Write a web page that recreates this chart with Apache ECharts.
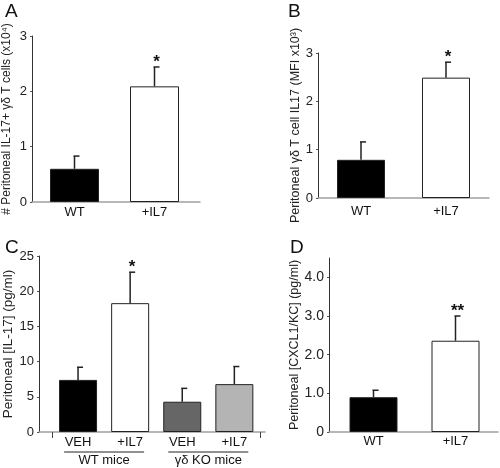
<!DOCTYPE html>
<html><head><meta charset="utf-8">
<script src="https://cdn.jsdelivr.net/npm/echarts@6/dist/echarts.min.js"></script>
<style>html,body{margin:0;padding:0;background:#fff}#c{width:500px;height:468px}</style>
</head><body><div id="c"></div>
<script>
// ---- data ----
const catsA = ['WT', '+IL7'];
const meanA = [0.6, 2.09];
const semA = [0.23, 0.35];
const sigA = ['', '*'];

const catsB = ['WT', '+IL7'];
const meanB = [0.79, 2.49];
const semB = [0.37, 0.32];
const sigB = ['', '*'];

const catsC = ['VEH', '+IL7', 'VEH', '+IL7'];
const meanC = [7.4, 18.3, 4.3, 6.8];
const semC = [1.8, 4.4, 1.9, 2.5];
const sigC = ['', '*', '', ''];
const groupsC = ['WT mice', 'γδ KO mice'];
const groupIdxC = [[0, 1], [2, 3]];

const catsD = ['WT', '+IL7'];
const meanD = [0.9, 2.36];
const semD = [0.18, 0.64];
const sigD = ['', '**'];

const colors2 = ['#000000', '#ffffff'];
const colors4 = ['#000000', '#ffffff', '#666666', '#b4b4b4'];

// ---- layout ----
const FONT = 'Liberation Sans, Arial, sans-serif';
const panels = [
  {cats: catsA, mean: meanA, sem: semA, sig: sigA, colors: colors2, max: 3, interval: 1, fmt: v => String(v),
   frame: {left: 30, top: 36, width: 170, height: 166}, bars: {left: 34.5, width: 160}, bw: 49,
   name: '# Peritoneal IL-17+ γδ T cells (x10⁴)', nameGap: 19, nameFont: 12, labelMargin: 4, tickFont: 13},
  {cats: catsB, mean: meanB, sem: semB, sig: sigB, colors: colors2, max: 3, interval: 1, fmt: v => String(v),
   frame: {left: 318, top: 53, width: 171, height: 145}, bars: {left: 318.5, width: 170}, bw: 48,
   name: 'Peritoneal γδ T cell IL17 (MFI x10³)', nameGap: 15, nameFont: 12.5, labelMargin: 7, tickFont: 13},
  {cats: catsC, mean: meanC, sem: semC, sig: sigC, colors: colors4, max: 25, interval: 5, fmt: v => String(v),
   frame: {left: 39, top: 256, width: 226, height: 176}, bars: {left: 52, width: 208.4}, bw: 38,
   name: 'Peritoneal [IL-17] (pg/ml)', nameGap: 22, nameFont: 13.5, labelMargin: 4, tickFont: 13},
  {cats: catsD, mean: meanD, sem: semD, sig: sigD, colors: colors2, max: 4.5, interval: 1, fmt: v => v === 0 ? '0' : v.toFixed(1),
   frame: {left: 329, top: 258, width: 169, height: 174}, bars: {left: 332.5, width: 164}, bw: 48,
   name: 'Peritoneal [CXCL1/KC] (pg/ml)', nameGap: 28, nameFont: 12.5, labelMargin: 3, tickFont: 14}
];

const grid = [], xAxis = [], yAxis = [], series = [];
panels.forEach((p, k) => {
  const fi = 2 * k, bi = 2 * k + 1;
  grid.push({left: p.frame.left, top: p.frame.top, width: p.frame.width, height: p.frame.height});
  grid.push({left: p.bars.left, top: p.frame.top, width: p.bars.width, height: p.frame.height});
  // frame axes
  xAxis.push({gridIndex: fi, type: 'value', min: 0, max: 1, axisLine: {show: true, lineStyle: {color: '#a0a0a0', width: 1.5}},
    axisTick: {show: false}, axisLabel: {show: false}, splitLine: {show: false}});
  yAxis.push({gridIndex: fi, type: 'value', min: 0, max: p.max, interval: p.interval,
    axisLine: {show: true, lineStyle: {color: '#333', width: 1}},
    axisTick: {show: true, length: 2, lineStyle: {color: '#555'}},
    axisLabel: {color: '#222', fontSize: p.tickFont, fontFamily: FONT, margin: 5, formatter: p.fmt, showMaxLabel: p.max % p.interval === 0},
    splitLine: {show: false},
    name: p.name, nameLocation: 'middle', nameRotate: 90, nameGap: p.nameGap,
    nameTextStyle: {color: '#222', fontSize: p.nameFont, fontFamily: FONT}});
  // bar axes
  xAxis.push({gridIndex: bi, type: 'category', data: p.cats,
    axisLine: {show: false},
    axisTick: {show: k === 2, length: 6, interval: (i) => i === 2, lineStyle: {color: '#444'}},
    axisLabel: {color: '#111', fontSize: 13, fontFamily: FONT, margin: p.labelMargin, interval: 0}});
  yAxis.push({gridIndex: bi, type: 'value', min: 0, max: p.max, show: false});
  series.push({type: 'bar', xAxisIndex: bi, yAxisIndex: bi, barWidth: p.bw,
    data: p.mean.map((v, i) => ({value: v, itemStyle: {color: p.colors[i], borderColor: '#222', borderWidth: 1}}))});
  series.push({type: 'custom', xAxisIndex: bi, yAxisIndex: bi, z: 5,
    data: p.mean.map((v, i) => [i, v, p.sem[i]]),
    renderItem: (params, api) => {
      const x = api.value(0), m = api.value(1), e = api.value(2);
      const b = api.coord([x, m]), t = api.coord([x, m + e]);
      const s = p.sig[params.dataIndex];
      const st = {stroke: '#222', lineWidth: 1.5};
      const children = [
        {type: 'line', shape: {x1: b[0], y1: b[1], x2: t[0], y2: t[1]}, style: st},
        {type: 'line', shape: {x1: t[0] - 1, y1: t[1], x2: t[0] + 5, y2: t[1]}, style: st}
      ];
      if (s) children.push({type: 'text', style: {text: s, x: t[0] + 2, y: t[1] + 4, textAlign: 'center', textVerticalAlign: 'bottom',
        fill: '#111', font: 'bold 17px ' + FONT}});
      return {type: 'group', children};
    }});
});

// group labels for panel C
series.push({type: 'custom', xAxisIndex: 5, yAxisIndex: 5, z: 5,
  data: groupIdxC.map(g => [g[0], g[1]]),
  encode: {x: [0, 1]},
  renderItem: (params, api) => {
    const a = api.coord([api.value(0), 0]), b = api.coord([api.value(1), 0]);
    const cx = (a[0] + b[0]) / 2, y0 = a[1];
    const half = 40;
    return {type: 'group', children: [
      {type: 'line', shape: {x1: cx - half, y1: y0 + 20, x2: cx + half, y2: y0 + 20}, style: {stroke: '#222', lineWidth: 1}},
      {type: 'text', style: {text: groupsC[params.dataIndex], x: cx, y: y0 + 28.5, textAlign: 'center', textVerticalAlign: 'middle',
        fill: '#111', font: '13px ' + FONT}}
    ]};
  }});

const letterStyle = {fontSize: 19, fontWeight: 'normal', color: '#111', fontFamily: FONT};
const chart = echarts.init(document.getElementById('c'), null, {renderer: 'canvas'});
chart.setOption({
  animation: false,
  backgroundColor: '#fff',
  title: [
    {text: 'A', left: 0, top: -3, textStyle: letterStyle},
    {text: 'B', left: 283, top: -3, textStyle: letterStyle},
    {text: 'C', left: 0, top: 233, textStyle: letterStyle},
    {text: 'D', left: 285, top: 233, textStyle: letterStyle}
  ],
  grid, xAxis, yAxis, series
});
</script></body></html>
